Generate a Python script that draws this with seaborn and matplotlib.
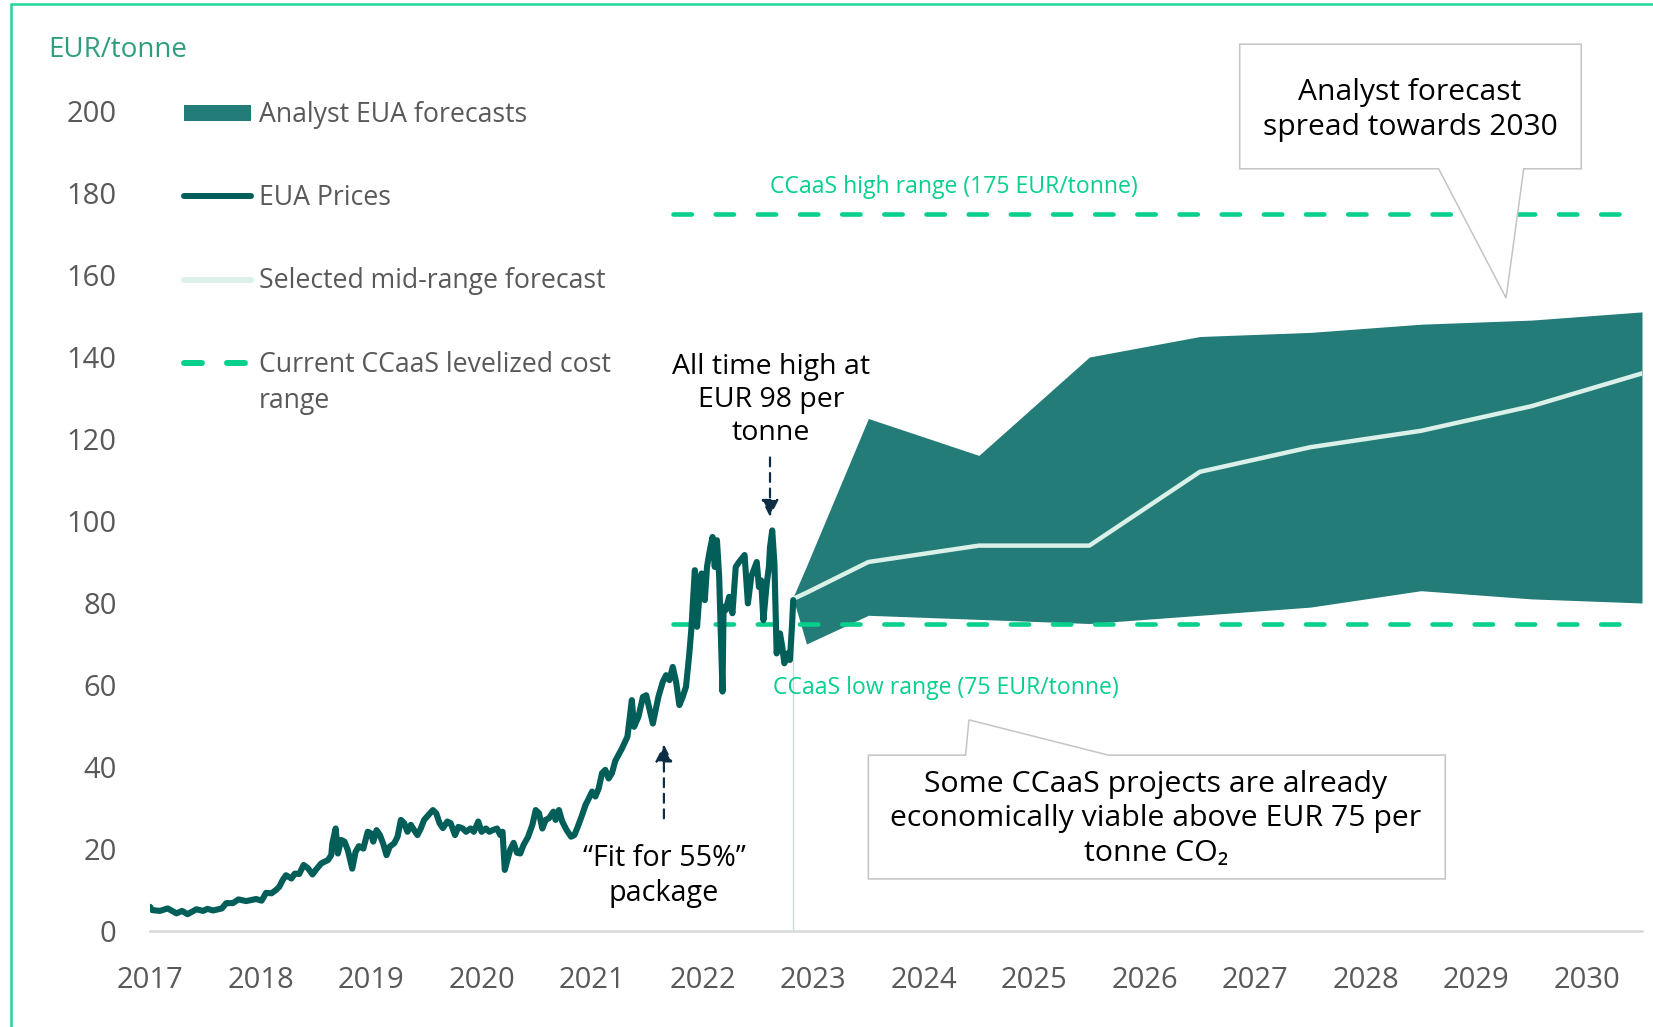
import matplotlib
matplotlib.use("Agg")
import matplotlib.pyplot as plt
import seaborn as sns
import pandas as pd
from matplotlib.lines import Line2D
from matplotlib.patches import Patch, Polygon
from matplotlib.transforms import IdentityTransform

# ---------------- data ----------------
price_dates = [
    2017.00, 2017.02, 2017.09, 2017.16, 2017.24, 2017.29, 2017.34, 2017.42, 2017.48, 2017.52,
    2017.57, 2017.65, 2017.69, 2017.75, 2017.80, 2017.87, 2017.96, 2018.01, 2018.05, 2018.10,
    2018.14, 2018.17, 2018.20, 2018.23, 2018.28, 2018.31, 2018.35, 2018.39, 2018.43, 2018.47,
    2018.50, 2018.55, 2018.61, 2018.64, 2018.65, 2018.68, 2018.70, 2018.73, 2018.76, 2018.79,
    2018.83, 2018.86, 2018.89, 2018.93, 2018.97, 2019.00, 2019.02, 2019.05, 2019.08, 2019.11,
    2019.14, 2019.17, 2019.21, 2019.24, 2019.27, 2019.30, 2019.33, 2019.36, 2019.39, 2019.42,
    2019.45, 2019.48, 2019.52, 2019.56, 2019.59, 2019.62, 2019.65, 2019.69, 2019.72, 2019.76,
    2019.79, 2019.83, 2019.86, 2019.90, 2019.93, 2019.97, 2020.00, 2020.04, 2020.07, 2020.10,
    2020.14, 2020.17, 2020.19, 2020.21, 2020.23, 2020.26, 2020.29, 2020.32, 2020.35, 2020.38,
    2020.42, 2020.46, 2020.49, 2020.52, 2020.55, 2020.58, 2020.61, 2020.65, 2020.67, 2020.70,
    2020.73, 2020.77, 2020.81, 2020.84, 2020.87, 2020.91, 2020.94, 2020.97, 2021.00, 2021.03,
    2021.06, 2021.09, 2021.12, 2021.15, 2021.18, 2021.21, 2021.24, 2021.27, 2021.32, 2021.36,
    2021.38, 2021.42, 2021.46, 2021.49, 2021.55, 2021.60, 2021.64, 2021.67, 2021.70, 2021.73,
    2021.76, 2021.79, 2021.82, 2021.85, 2021.88, 2021.90, 2021.91, 2021.93, 2021.95, 2021.97,
    2021.99, 2022.02, 2022.04, 2022.06, 2022.09, 2022.11, 2022.13, 2022.15, 2022.18, 2022.19,
    2022.21, 2022.24, 2022.27, 2022.30, 2022.33, 2022.38, 2022.41, 2022.44, 2022.49, 2022.51,
    2022.53, 2022.55, 2022.58, 2022.60, 2022.61, 2022.63, 2022.65, 2022.67, 2022.70, 2022.72,
    2022.74, 2022.77, 2022.79, 2022.81, 2022.82,
]
price_values = [
    5.9, 5.1, 4.9, 5.5, 4.3, 4.9, 4.1, 5.3, 4.9, 5.4,
    5.0, 5.5, 6.8, 6.8, 7.7, 7.3, 7.8, 7.4, 9.3, 9.2,
    10.0, 10.8, 12.4, 13.6, 12.8, 14.0, 13.9, 16.1, 15.3, 13.8,
    14.9, 16.5, 17.3, 18.5, 21.4, 25.0, 18.9, 22.2, 21.8, 19.7,
    15.2, 19.3, 20.7, 20.1, 24.2, 23.8, 21.8, 24.6, 23.4, 21.3,
    18.5, 20.6, 21.4, 23.0, 27.1, 26.3, 24.2, 25.9, 24.6, 23.4,
    25.0, 27.1, 28.3, 29.5, 28.7, 26.3, 25.1, 26.7, 26.3, 23.4,
    25.4, 25.0, 24.2, 25.0, 24.2, 26.7, 24.2, 25.0, 24.2, 24.6,
    25.0, 23.4, 24.2, 14.9, 16.9, 19.9, 21.5, 19.1, 18.9, 21.0,
    22.9, 25.9, 29.5, 28.7, 25.0, 27.1, 27.5, 29.1, 27.1, 29.5,
    26.7, 24.6, 23.0, 23.4, 25.4, 28.3, 30.7, 32.3, 34.0, 32.8,
    34.8, 38.5, 39.3, 37.2, 38.5, 41.5, 43.0, 44.5, 47.4, 56.3,
    49.8, 52.3, 57.1, 57.5, 50.6, 57.1, 60.8, 62.4, 61.2, 64.4,
    60.8, 55.1, 57.1, 59.6, 67.7, 74.2, 79.1, 88.0, 74.2, 81.5,
    87.2, 80.7, 88.8, 92.1, 96.1, 88.8, 95.3, 86.4, 58.4, 79.1,
    78.3, 81.5, 77.5, 88.8, 90.0, 91.7, 79.9, 86.4, 90.0, 83.9,
    85.5, 75.8, 84.7, 88.8, 93.6, 97.7, 89.6, 67.7, 72.6, 69.4,
    65.3, 67.7, 66.1, 75.0, 80.7,
]

forecast_dates = [2022.82, 2022.94, 2023.5, 2024.5, 2025.5, 2026.5, 2027.5, 2028.5, 2029.5, 2030.5]
forecast_low = [81, 70, 77, 76, 75, 77, 79, 83, 81, 80]
forecast_high = [81.5, 89, 125, 116, 140, 145, 146, 148, 149, 151]
midrange_values = [81, 82.5, 90, 94, 94, 112, 118, 122, 128, 136]

ccaas_low = 75
ccaas_high = 175
ccaas_start = 2021.73
last_price_date = 2022.82

year_ticks = list(range(2017, 2031))
y_ticks = list(range(0, 201, 20))

legend_labels = ["Analyst EUA forecasts", "EUA Prices", "Selected mid-range forecast",
                 "Current CCaaS levelized cost"]
legend_label_cont = "range"

# ---------------- style ----------------
BAND = "#237C77"
PRICE = "#025E59"
MID = "#DAF0E8"
GREEN = "#06D08C"
GREY = "#595959"
NAVY = "#0D2E45"
FONTS = ["Open Sans", "Noto Sans", "DejaVu Sans"]

sns.set_theme(style="white")
plt.rcParams["font.family"] = FONTS

W, H = 16.53, 10.27
fig = plt.figure(figsize=(W, H), dpi=100)
ax = fig.add_axes([150 / 1653, 1 - 931 / 1027, 1492 / 1653, 820 / 1027])

price_df = pd.DataFrame({"date": price_dates, "price": price_values})
fc_df = pd.DataFrame({"date": forecast_dates, "low": forecast_low,
                      "high": forecast_high, "mid": midrange_values})

# band
ax.fill_between(fc_df["date"], fc_df["low"], fc_df["high"], color=BAND, lw=0, zorder=1)
# thin vertical marker at end of actual prices
ax.vlines(last_price_date, 0, price_values[-1], color="#C9DCDC", lw=1, zorder=1)
# CCaaS range lines
for lvl in (ccaas_low, ccaas_high):
    ax.hlines(lvl, ccaas_start, 2030.5, color=GREEN, lw=3.3, linestyles=(0, (4.0, 5.2)),
              capstyle="round", zorder=3)
# mid-range forecast
sns.lineplot(data=fc_df, x="date", y="mid", ax=ax, color=MID, lw=3.2, zorder=4,
             solid_capstyle="round")
# EUA prices
sns.lineplot(data=price_df, x="date", y="price", ax=ax, color=PRICE, lw=4.4, zorder=5,
             solid_joinstyle="round")

ax.set_xlim(2017, 2030.5)
ax.set_ylim(0, 200)
ax.set_xticks(year_ticks)
ax.set_xticklabels([str(y) for y in year_ticks])
ax.set_yticks(y_ticks)
ax.set_xlabel("")
ax.set_ylabel("")
for s in ("top", "right", "left"):
    ax.spines[s].set_visible(False)
ax.spines["bottom"].set_color("#D9D9D9")
ax.spines["bottom"].set_linewidth(1.8)
ax.tick_params(axis="both", length=0, labelsize=21, labelcolor=GREY)
ax.tick_params(axis="x", pad=25)
ax.tick_params(axis="y", pad=24)
ax.patch.set_alpha(0)

# labels for CCaaS lines
ax.text(2022.61, 181.5, "CCaaS high range (175 EUR/tonne)", color=GREEN, fontsize=16.6,
        ha="left", va="center")
ax.text(2022.64, 59.2, "CCaaS low range (75 EUR/tonne)", color=GREEN, fontsize=16.6,
        ha="left", va="center")

# annotations with arrows
arrow_kw = dict(arrowstyle="-|>", color=NAVY, lw=1.6, linestyle=(0, (4, 3)),
                mutation_scale=26, shrinkA=0, shrinkB=0)
ax.annotate("", xy=(2022.61, 101), xytext=(2022.61, 115.5), arrowprops=arrow_kw, zorder=6)
ax.text(2022.62, 129.5, "All time high at\nEUR 98 per\ntonne", fontsize=20.5, color="black",
        ha="center", va="center", linespacing=1.25)
ax.annotate("", xy=(2021.65, 45.5), xytext=(2021.65, 27.5), arrowprops=arrow_kw, zorder=6)
ax.text(2021.65, 13.3, "\u201cFit for 55%\u201d\npackage", fontsize=20.7, color="black",
        ha="center", va="center", linespacing=1.27)

# callout boxes
callout1 = [(2026.86, 216.3), (2029.95, 216.3), (2029.95, 185.9), (2029.43, 185.9),
            (2029.27, 154.4), (2028.66, 185.9), (2026.86, 185.9)]
ax.add_patch(Polygon(callout1, closed=True, facecolor="white", edgecolor="#C4C4C4",
                     lw=1.1, clip_on=False, zorder=7))
ax.text(2028.40, 200.2, "Analyst forecast\nspread towards 2030", fontsize=21.6, color="black",
        ha="center", va="center", linespacing=1.27, zorder=8, clip_on=False)

callout2 = [(2023.50, 42.9), (2024.38, 42.9), (2024.41, 51.5), (2025.67, 42.9),
            (2028.72, 42.9), (2028.72, 12.7), (2023.50, 12.7)]
ax.add_patch(Polygon(callout2, closed=True, facecolor="white", edgecolor="#C4C4C4",
                     lw=1.1, clip_on=False, zorder=7))
ax.text(2026.10, 27.4, "Some CCaaS projects are already\neconomically viable above EUR 75 per\ntonne CO\u2082",
        fontsize=21.8, color="black", ha="center", va="center", linespacing=1.25, zorder=8)

# legend
handles = [
    Patch(facecolor=BAND, edgecolor="none"),
    Line2D([], [], color=PRICE, lw=4.3, solid_capstyle="round"),
    Line2D([], [], color=MID, lw=4.3, solid_capstyle="round"),
    Line2D([], [], color=GREEN, lw=4.3, linestyle=(0, (3.0, 4.2)), dash_capstyle="round"),
]
leg = ax.legend(handles, legend_labels, loc="upper left",
                bbox_to_anchor=(184 / 1653, 1 - 101 / 1027),
                bbox_transform=fig.transFigure, frameon=False, fontsize=19.2, labelcolor=GREY,
                handlelength=2.5, handleheight=0.55, handletextpad=0.3, labelspacing=2.07,
                borderpad=0, borderaxespad=0)

# axis unit label
fig.text(48 / 1653, 1 - 50 / 1027, "EUR/tonne", fontsize=20, color="#2E9E7E",
         ha="left", va="center")

# frame lines (top and left)
fig.add_artist(Line2D([11 / 1653, 1], [1 - 4 / 1027, 1 - 4 / 1027], transform=fig.transFigure,
                      color="#22D69C", lw=1.8))
fig.add_artist(Line2D([11 / 1653, 11 / 1653], [0, 1 - 4 / 1027], transform=fig.transFigure,
                      color="#22D69C", lw=1.8))

# second line of the last legend label, placed under the first line
fig.canvas.draw()
bb = leg.get_texts()[3].get_window_extent()
fig.text(bb.x0, bb.y0 - 36, legend_label_cont, transform=IdentityTransform(),
         fontsize=19.2, color=GREY, ha="left", va="bottom")

fig.savefig("out.png", dpi=100, facecolor="white")
